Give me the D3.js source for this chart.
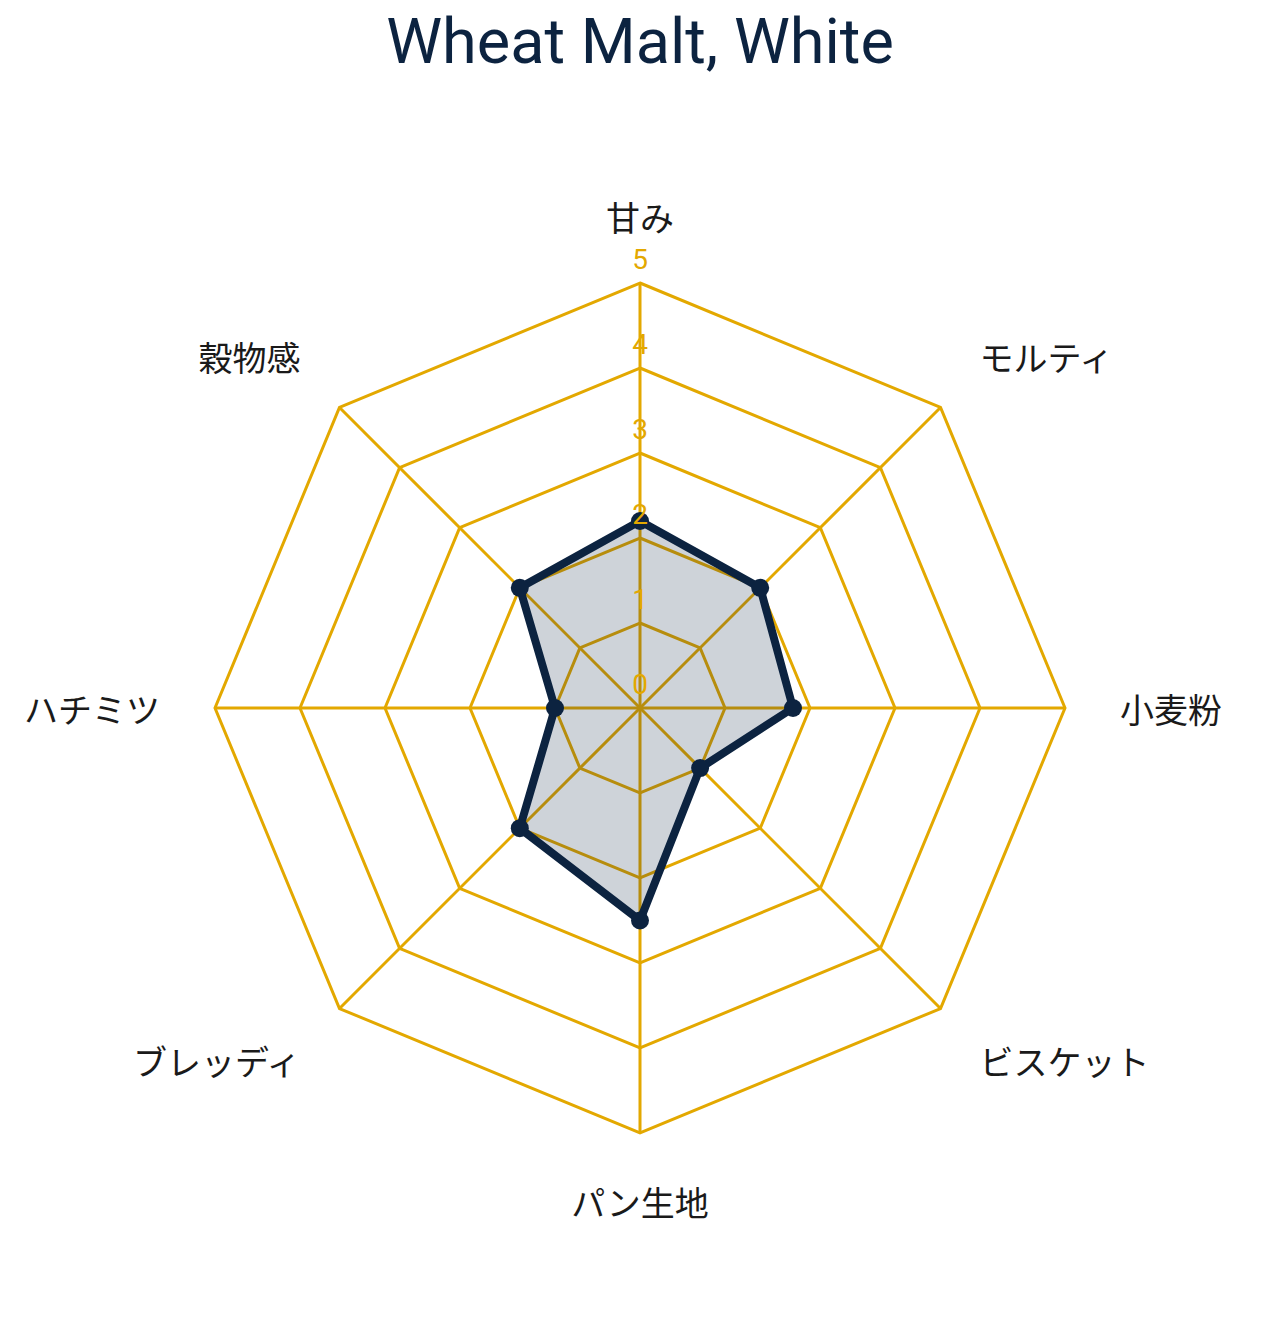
<!DOCTYPE html>
<html><head><meta charset="utf-8">
<script src="https://cdn.jsdelivr.net/npm/d3@7"></script>
<style>
html,body{margin:0;padding:0;background:#fff;}
</style></head>
<body>
<svg id="chart" width="1272" height="1323"></svg>
<script>
const title = "Wheat Malt, White";
const categories = ["甘み","モルティ","小麦粉","ビスケット","パン生地","ブレッディ","ハチミツ","穀物感"];
const values = [2.2, 2.0, 1.8, 1.0, 2.5, 2.0, 1.0, 2.0];
const tickValues = [0,1,2,3,4,5];

const W = 1272, H = 1323;
const cx = 640, cy = 708, R = 425;
const gold = "#E3A800", navy = "#0C2340";

const svg = d3.select("#chart");
const r = d3.scaleLinear().domain([0,5]).range([0,R]);
const angle = d3.scalePoint().domain(categories).range([0, 2*Math.PI*(categories.length-1)/categories.length]);
const pt = (cat, v) => {
  const a = angle(cat) - Math.PI/2;
  return [cx + r(v)*Math.cos(a), cy + r(v)*Math.sin(a)];
};

svg.append("text").attr("x", cx).attr("y", 63).attr("text-anchor","middle")
  .attr("font-family","'Google Sans', Roboto, 'Open Sans', sans-serif").attr("font-size", 63)
  .attr("fill", navy).text(title);

const g = svg.append("g");
// grid polygons
tickValues.filter(t=>t>0).forEach(t=>{
  g.append("polygon")
    .attr("points", categories.map(c=>pt(c,t).join(",")).join(" "))
    .attr("fill","none").attr("stroke",gold).attr("stroke-width",3);
});
// spokes
categories.forEach(c=>{
  const [x,y] = pt(c,5);
  g.append("line").attr("x1",cx).attr("y1",cy).attr("x2",x).attr("y2",y)
    .attr("stroke",gold).attr("stroke-width",3);
});

// data area
const line = d3.lineRadial().angle((d,i)=>angle(categories[i])).radius(d=>r(d)).curve(d3.curveLinearClosed);
const dg = svg.append("g").attr("transform",`translate(${cx},${cy})`);
dg.append("path").datum(values).attr("d", line)
  .attr("fill", navy).attr("fill-opacity",0.2)
  .attr("stroke", navy).attr("stroke-width",8).attr("stroke-linejoin","round");
dg.selectAll("circle").data(values).join("circle")
  .attr("cx",(d,i)=>pt(categories[i],d)[0]-cx)
  .attr("cy",(d,i)=>pt(categories[i],d)[1]-cy)
  .attr("r",9).attr("fill",navy);

// tick labels (on top)
svg.append("g").selectAll("text").data(tickValues).join("text")
  .attr("x", cx).attr("y", d=> cy - r(d) - 14)
  .attr("text-anchor","middle")
  .attr("font-family","Roboto, 'Open Sans', sans-serif").attr("font-size",28)
  .attr("fill",gold).text(d=>d);

// category labels
const LR = 480;
categories.forEach((c)=>{
  const a = angle(c) - Math.PI/2;
  const x = cx + LR*Math.cos(a), y = cy + LR*Math.sin(a);
  const cosA = Math.cos(a), sinA = Math.sin(a);
  let anchor = Math.abs(cosA) < 0.01 ? "middle" : (cosA > 0 ? "start" : "end");
  let dy = 0;
  if (sinA < -0.01) dy = -12;
  else if (sinA > 0.01) dy = 13;
  svg.append("text").attr("x",x).attr("y",y + dy)
    .attr("text-anchor",anchor).attr("dominant-baseline","central")
    .attr("font-family","'Noto Sans CJK JP', sans-serif").attr("font-size",34)
    .attr("fill","#1a1a1a").text(c);
});
</script>
</body></html>
